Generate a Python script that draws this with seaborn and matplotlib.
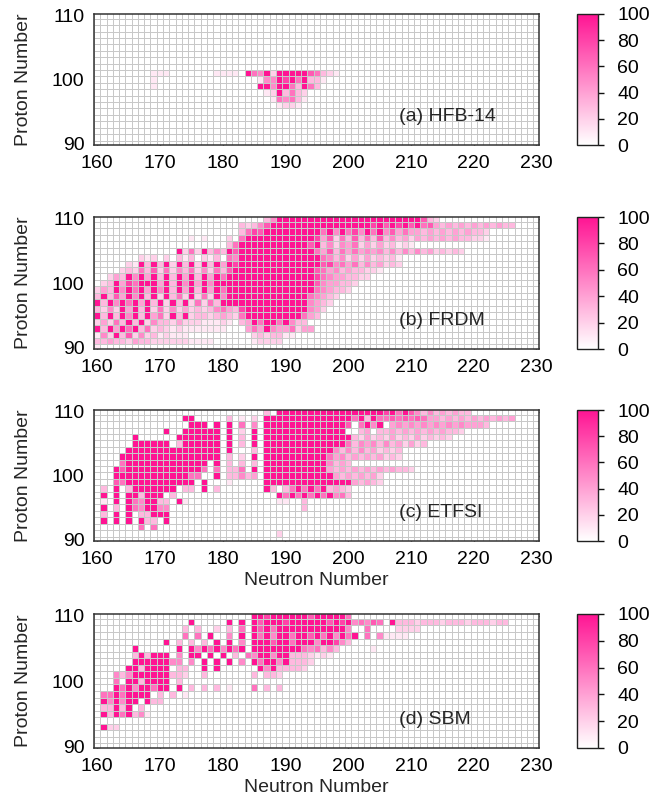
import numpy as np
import pandas as pd
import matplotlib
matplotlib.use('Agg')
import matplotlib.pyplot as plt
import seaborn as sns
from matplotlib.colors import LinearSegmentedColormap

# grid of nuclei: neutron number N (columns) and proton number Z (rows, top = 110)
N_values = list(range(160, 231))
Z_values = list(range(110, 89, -1))

# cell codes: '.' = 0, '1'..'9' = 10..90, '#' = 100
# each row: (Z, first N, codes)
hfb14_rows = [
    (101, 169, "111.......1111.#65#2#####76321"),
    (100, 169, "1................155#8#6#331"),
    (99, 169, "1................##5##63#63"),
    (98, 187, "12#3632"),
    (97, 188, "165631"),
    (96, 189, "1221"),
]

frdm_rows = [
    (110, 187, "35" + "#" * 23 + "732"),
    (109, 183, "3235" + "7" + "#" * 16 + "8#7#8#7#67" + "4343434343433"),
    (108, 183, "3687" + "#" * 9 + "6#5#685#6#57464" + "434343434332"),
    (107, 175, "1.1...2.6" + "#" * 11 + "8472637363735342434343433221"),
    (106, 181, "36#" + "#" * 10 + "7#352546242423121"),
    (105, 173, "#262#353#7#" + "#" * 11 + "647364645453535353423232"),
    (104, 167, "212.2.313.213.65#" + "#" * 12 + "6535242423231"),
    (103, 165, "21#3#3#2#3#2#3#4#8" + "#" * 13 + "7856463534232"),
    (102, 164, "232637262536252637#" + "#" * 12 + "76453433221"),
    (101, 162, "243#5#4#3#3#4#3#4#6#" + "#" * 13 + "865443322"),
    (100, 161, "23#486###4#3#5#4#5##" + "#" * 14 + "7544332"),
    (99, 160, "243#5#6#4#5#3#4#3#4#6#" + "#" * 13 + "654332"),
    (98, 160, "3#374#5#3#2#362#262#5#" + "#" * 12 + "65432"),
    (97, 160, "#3#5#6#4#3#2#3#26263##" + "#" * 12 + "5432"),
    (96, 160, "3252#4#3#262524232356438" + "#" * 10 + "542"),
    (95, 160, "#3#3#5#3#462#3#233234326" + "#" * 9 + "643"),
    (94, 160, "24263#3#25332422211121.34#6##6#533"),
    (93, 160, "#3#4#6#36232121111111...464#5446244"),
    (92, 160, "152#37252312111..........2323311"),
    (91, 160, "3343324332222221111......12222"),
    (90, 160, "1"),
]

etfsi_rows = [
    (110, 187, "3." + "#" * 17 + "8#6#7" + "535343433"),
    (109, 174, "##.....3.1.2." + "#" * 14 + "6#3#6" + "6767676" + "44343434343434"),
    (108, 175, "###.#.#.6.5." + "#" * 13 + "7.6#5#." + "4545454545454443"),
    (107, 171, "#..######.#.2.#." + "#" * 13 + "..34.3" + "3434343434332"),
    (106, 166, "#......#######.#.3.#." + "#" * 14 + "3242324232423232"),
    (105, 166, "######.3######.#.3.#." + "#" * 13 + "6354535342423"),
    (104, 165, "#" * 15 + ".#...3." + "#" * 11 + "53535342323"),
    (103, 164, "#" * 16 + ".3.2.#." + "#" * 10 + "645343434232"),
    (102, 164, "6" + "#" * 13 + ".#.3.3.3." + "#" * 10 + "5343"),
    (101, 163, "#7" + "#" * 12 + "6.6.336.#." + "#" * 10 + "43434343434332"),
    (100, 163, "#" * 12 + "66..#.33534." + "#" * 11 + "43434342"),
    (99, 163, "76" + "#" * 11 + ".#...1....." + "#" * 14 + "43432"),
    (98, 161, "3.#.3#######.33.#.3......." + "#3.36#6#6#3432"),
    (97, 161, "#.#.##3###.3................" + "#6#6#6#6#563"),
    (96, 161, "1.#.#65##33.#1.............." + "11..3"),
    (95, 161, "#.3.#65##55" + "." * 21 + "3"),
    (94, 161, "3.#.#.33###"),
    (93, 161, "#.#.#.#33.#"),
    (92, 167, "6.6"),
    (91, 189, "2"),
]

sbm_rows = [
    (110, 185, "##8######7#####6"),
    (109, 175, "#.....#.#." + "#7###8######7#8#" + "56576.#" + "333233323332333233"),
    (108, 174, "3.3..2.3.6." + "#7#6###########" + "5..6....2222"),
    (107, 174, "6.6.#..5.#." + "#6#5##6##7#6#5#6#" + ".6.51111"),
    (106, 171, "#.3.3.3.#.#.5." + "###7##6###5##8" + "53"),
    (105, 166, "#......#.#5#6#5#6#." + "########" + "656353.....1"),
    (104, 166, "3#3###.5.##.#.#.3.65##5##3332121"),
    (103, 166, "######55.5.#.#.#.5.#6##5#3332"),
    (102, 165, "##3####.33..#.#......#5#33332"),
    (101, 163, "535######332..3.......3.332"),
    (100, 163, "6.##3####.3"),
    (99, 163, "#6#5##6##.#.3.3.3.1...6.3.3"),
    (98, 161, "66#6####.3.3.1"),
    (97, 161, "#5#5##.#33"),
    (96, 161, "33#3#.3"),
    (95, 161, "#3#6#351"),
    (93, 161, "#22"),
]

panel_labels = ["(a) HFB-14", "(b) FRDM", "(c) ETFSI", "(d) SBM"]
code_values = {'.': 0.0, '#': 100.0}
code_values.update({str(d): d * 10.0 for d in range(1, 10)})


def build_grid(rows):
    grid = pd.DataFrame(0.0, index=Z_values, columns=N_values)
    for z, n0, s in rows:
        for k, ch in enumerate(s):
            if n0 + k <= 230:
                grid.loc[z, n0 + k] = code_values[ch]
    return grid


sns.set_style('white')
plt.rcParams['font.family'] = ['Liberation Sans', 'DejaVu Sans']
plt.rcParams['font.size'] = 14

cmap = LinearSegmentedColormap.from_list('wp', ['#ffffff', '#ff1493'])

fig = plt.figure(figsize=(6.54, 8.09), dpi=100)
W, H = 654.0, 809.0
# (top, bottom) of each panel in pixels
panel_px = [(14, 145), (217, 349), (410, 541), (614, 748)]

for i, rows in enumerate([hfb14_rows, frdm_rows, etfsi_rows, sbm_rows]):
    top, bot = panel_px[i]
    ax = fig.add_axes([94 / W, 1 - bot / H, 445 / W, (bot - top) / H])
    cax = fig.add_axes([577 / W, 1 - bot / H, 21 / W, (bot - top) / H])
    grid = build_grid(rows)
    sns.heatmap(grid, ax=ax, cbar_ax=cax, cmap=cmap, vmin=0, vmax=100,
                linewidths=0.65, linecolor='#c8c8c8',
                xticklabels=False, yticklabels=False)
    ax.set_xlim(0, 70.9)
    ax.set_ylim(20.7, 0.25)
    xt = [160, 170, 180, 190, 200, 210, 220, 230]
    ax.set_xticks([n - 160 + 0.5 for n in xt])
    ax.set_xticklabels([str(n) for n in xt], fontsize=14)
    yt = [90, 100, 110]
    ax.set_yticks([110 - z + 0.5 for z in yt])
    ax.set_yticklabels([str(z) for z in yt], fontsize=14, rotation=0)
    ax.tick_params(direction='in', length=4, width=1, top=True, right=True,
                   bottom=True, left=True, pad=7, colors='#111111',
                   labelcolor='black')
    for sp in ax.spines.values():
        sp.set_visible(True)
        sp.set_linewidth(1.1)
        sp.set_color('#333333')
    ax.set_ylabel('Proton Number', fontsize=14, labelpad=14)
    ax.set_xlabel('Neutron Number' if i >= 2 else '', fontsize=14, labelpad=3)
    ax.text(0.685, 0.215, panel_labels[i], transform=ax.transAxes,
            fontsize=14, va='center', ha='left')

    cbar = ax.collections[0].colorbar
    cbar.set_ticks([0, 20, 40, 60, 80, 100])
    cax.tick_params(labelsize=14, length=4, width=1, direction='out', pad=10,
                    colors='#111111', labelcolor='black')
    cbar.outline.set_linewidth(1)
    cbar.outline.set_edgecolor('#222222')

fig.savefig('out.png', dpi=100)
